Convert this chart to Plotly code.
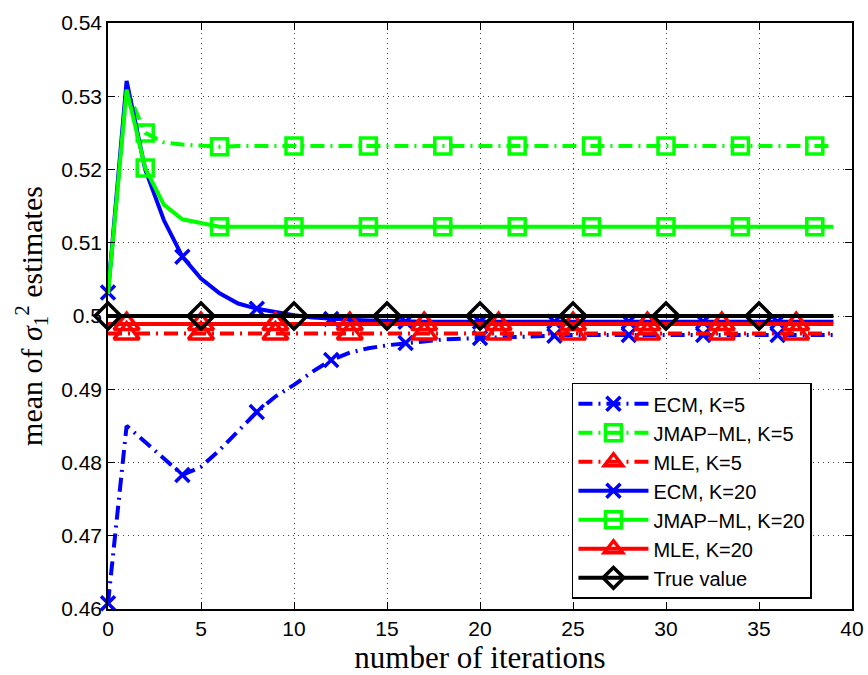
import plotly.graph_objects as go

iters = list(range(40))

ecm_k5 = [0.4608, 0.4850, 0.4828, 0.4806, 0.4783, 0.4794, 0.4817, 0.4843, 0.4869,
          0.4890, 0.4906, 0.4924, 0.4940, 0.4950, 0.4956, 0.4960, 0.4963, 0.4966,
          0.4968, 0.4969, 0.4970, 0.4971, 0.4972, 0.4973, 0.4973] + [0.4974] * 15
jmap_k5 = [0.5030, 0.5309, 0.5250, 0.5237, 0.5234, 0.5232, 0.5231] + [0.5232] * 33
mle_k5 = [0.4976] * 40
ecm_k20 = [0.5032, 0.5321, 0.5200, 0.5131, 0.5081, 0.5051, 0.5031, 0.5017, 0.5010,
           0.5005, 0.5001, 0.4998, 0.4996, 0.4995, 0.4994, 0.4993, 0.4992] + [0.4992] * 23
jmap_k20 = [0.5030, 0.5309, 0.5202, 0.5152, 0.5132, 0.5127, 0.5122] + [0.5122] * 33
mle_k20 = [0.4989] * 40
true_val = [0.5] * 40

names = ["ECM, K=5", "JMAP\u2212ML, K=5", "MLE, K=5",
         "ECM, K=20", "JMAP\u2212ML, K=20", "MLE, K=20", "True value"]
series = [ecm_k5, jmap_k5, mle_k5, ecm_k20, jmap_k20, mle_k20, true_val]
marker_start = [0, 2, 1, 0, 2, 1, 0]
marker_step = [4, 4, 4, 4, 4, 4, 5]

x_ticks = [0, 5, 10, 15, 20, 25, 30, 35, 40]
y_ticks = [0.46, 0.47, 0.48, 0.49, 0.50, 0.51, 0.52, 0.53, 0.54]
y_ticktext = ["0.46", "0.47", "0.48", "0.49", "0.5", "0.51", "0.52", "0.53", "0.54"]

BLUE, GREEN, RED, BLACK = "#0000FF", "#00FF00", "#FF0000", "#000000"
DASHDOT = "14px,6px,2px,6px"
styles = [
    dict(color=BLUE, dash=DASHDOT, symbol="x-thin", size=14),
    dict(color=GREEN, dash=DASHDOT, symbol="square-open", size=16),
    dict(color=RED, dash=DASHDOT, symbol="triangle-up-open", size=22),
    dict(color=BLUE, dash="solid", symbol="x-thin", size=14),
    dict(color=GREEN, dash="solid", symbol="square-open", size=16),
    dict(color=RED, dash="solid", symbol="triangle-up-open", size=22),
    dict(color=BLACK, dash="solid", symbol="diamond-open", size=20),
]
LW = 4
MLW = 3.5

fig = go.Figure()
for name, ys, st, m0, ms in zip(names, series, styles, marker_start, marker_step):
    fig.add_trace(go.Scatter(x=iters, y=ys, mode="lines", showlegend=False,
                             line=dict(color=st["color"], width=LW, dash=st["dash"]),
                             hoverinfo="skip"))
    mx = iters[m0::ms]
    my = ys[m0::ms]
    fig.add_trace(go.Scatter(x=mx, y=my, mode="markers", showlegend=False,
                             cliponaxis=False,
                             marker=dict(symbol=st["symbol"], size=st["size"],
                                         color=st["color"],
                                         line=dict(color=st["color"], width=MLW))))
for name, st in zip(names, styles):
    fig.add_trace(go.Scatter(x=[None], y=[None], mode="lines+markers", name=name,
                             line=dict(color=st["color"], width=LW, dash=st["dash"]),
                             marker=dict(symbol=st["symbol"], size=st["size"],
                                         color=st["color"],
                                         line=dict(color=st["color"], width=MLW))))

axis_common = dict(showline=True, linecolor="black", linewidth=1.5, mirror="ticks",
                   ticks="inside", ticklen=7, tickwidth=1, tickcolor="black",
                   showgrid=True, gridcolor="#444", gridwidth=1, griddash="1px,4px",
                   zeroline=False, automargin=False,
                   tickfont=dict(family="Liberation Sans, Arial", size=21, color="black"))

fig.update_xaxes(range=[0, 40], tickvals=x_ticks,
                 title=dict(text="number of iterations",
                            font=dict(family="Liberation Serif, serif", size=31, color="black"),
                            standoff=10),
                 **axis_common)
fig.update_yaxes(range=[0.46, 0.54], tickvals=y_ticks, ticktext=y_ticktext,
                 title=dict(text="mean of <i>\u03c3</i><sub>1</sub><sup>2</sup> estimates",
                            font=dict(family="Liberation Serif, serif", size=30, color="black"),
                            standoff=10),
                 **axis_common)

fig.update_layout(
    width=868, height=675,
    margin=dict(l=108, r=16, t=23, b=66),
    paper_bgcolor="white", plot_bgcolor="white",
    legend=dict(x=0.6236, y=0.386, xanchor="left", yanchor="top",
                bgcolor="white", bordercolor="black", borderwidth=1.5,
                font=dict(family="Liberation Sans, Arial", size=20, color="black"),
                itemwidth=70, tracegroupgap=0),
    showlegend=True,
)

fig.write_html("out.html")
